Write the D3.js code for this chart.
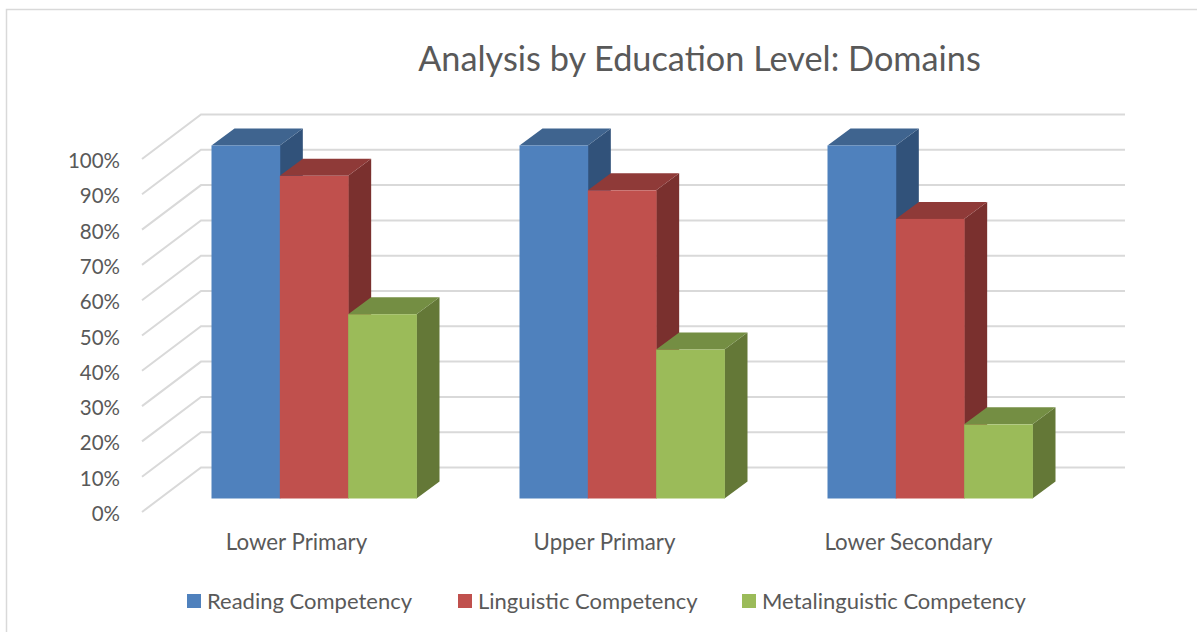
<!DOCTYPE html>
<html><head><meta charset="utf-8">
<script src="https://cdn.jsdelivr.net/npm/d3@7/dist/d3.min.js"></script>
<style>html,body{margin:0;padding:0;background:#fff}svg{display:block}text{font-family:Lato,"Open Sans",sans-serif;fill:#595959}</style>
</head><body><svg id="c" width="1197" height="632"></svg>
<script>
const title = "Analysis by Education Level: Domains";
const categories = ["Lower Primary","Upper Primary","Lower Secondary"];
const seriesNames = ["Reading Competency","Linguistic Competency","Metalinguistic Competency"];
const reading = [100,100,100];
const linguistic = [91.4,87.3,79.2];
const metalinguistic = [52.2,42.2,21];
const tickValues = d3.range(0,101,10);
const colors = {front:["#4f81bd","#c0504d","#9bbb59"],top:["#3f648f","#8f3a38","#748e43"],side:["#31527a","#7a302e","#647837"]};

const svg = d3.select("#c");
const y = d3.scaleLinear().domain([0,100]).range([498.5,145.5]);
const x0 = d3.scaleBand().domain(categories).range([135.5,1059.5]);
const x1 = d3.scaleBand().domain(seriesNames).range([76,281]);
const depth = {dx:23,dy:-17};
const wall = {dx:59,dy:-44.5,left:142,right:1125,rise:-31};
const wallY = v => y(v)+wall.rise;

// frame
svg.append("path").attr("d","M6.5,632V9.5H1197").attr("fill","none").attr("stroke","#d9d9d9").attr("stroke-width",1.5);

// gridlines
const grid = svg.append("g").attr("fill","none").attr("stroke","#d9d9d9").attr("stroke-width",2);
grid.selectAll("path").data(tickValues).join("path")
  .attr("d",v=>`M${wall.left},${wallY(v)-wall.dy}L${wall.left+wall.dx},${wallY(v)}H${wall.right}`);

// y labels
svg.append("g").selectAll("text").data(tickValues).join("text")
  .attr("x",120).attr("y",v=>wallY(v)-wall.dy+9).attr("text-anchor","end")
  .attr("font-size",20.5).text(v=>v+"%");

// bars
const all = [reading,linguistic,metalinguistic];
const g = svg.append("g");
categories.forEach((c,i)=>seriesNames.forEach((s,j)=>{
  const v = all[j][i];
  const l = x0(c)+x1(s), r = l+x1.bandwidth(), t = y(v), bt = y(0);
  const {dx,dy} = depth;
  g.append("path").attr("fill",colors.side[j]).attr("d",`M${r},${t}L${r+dx},${t+dy}V${bt+dy}L${r},${bt}Z`);
  g.append("path").attr("fill",colors.top[j]).attr("d",`M${l},${t}L${l+dx},${t+dy}H${r+dx}L${r},${t}Z`);
  g.append("rect").attr("fill",colors.front[j]).attr("x",l).attr("y",t).attr("width",r-l+0.4).attr("height",bt-t);
}));

// category labels
const labelNudge = [0,0,-4];
svg.append("g").selectAll("text").data(categories).join("text")
  .attr("x",(c,i)=>x0(c)+161+labelNudge[i]).attr("y",550).attr("text-anchor","middle")
  .attr("font-size",22.3).text(c=>c);

// title
svg.append("text").attr("x",699.5).attr("y",71).attr("text-anchor","middle")
  .attr("font-size",34.3).text(title);

// legend
const legendX = [187,458,742];
const leg = svg.append("g").selectAll("g").data(seriesNames).join("g")
  .attr("transform",(d,i)=>`translate(${legendX[i]},594)`);
leg.append("rect").attr("width",14).attr("height",14).attr("fill",(d,i)=>colors.front[i]);
leg.append("text").attr("x",20).attr("y",14.5).attr("font-size",22).text(d=>d);
</script></body></html>
